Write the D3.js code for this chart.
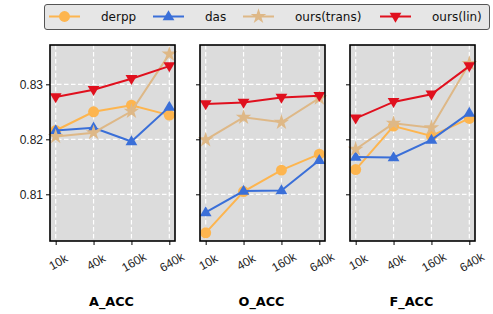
<!DOCTYPE html>
<html>
<head>
<meta charset="utf-8">
<script src="https://cdn.jsdelivr.net/npm/d3@7"></script>
<style>
  body { margin: 0; background: #fff; }
  svg { font-family: "DejaVu Sans", sans-serif; }
</style>
</head>
<body>
<svg id="chart" width="493" height="314"></svg>
<script>
const steps = ['10k', '40k', '160k', '640k'];
const panels = ['A_ACC', 'O_ACC', 'F_ACC'];
const seriesNames = ['derpp', 'das', 'ours(trans)', 'ours(lin)'];
const yTicks = [0.81, 0.82, 0.83];

// values per panel: [A_ACC, O_ACC, F_ACC]
const derpp = [
  [0.8216, 0.8250, 0.8262, 0.8244],
  [0.8030, 0.8105, 0.8144, 0.8173],
  [0.8145, 0.8224, 0.8206, 0.8238]
];
const das = [
  [0.8216, 0.8221, 0.8196, 0.8259],
  [0.8067, 0.8106, 0.8107, 0.8162],
  [0.8168, 0.8167, 0.8199, 0.8248]
];
const oursTrans = [
  [0.8205, 0.8212, 0.8251, 0.8355],
  [0.8199, 0.8240, 0.8231, 0.8275],
  [0.8182, 0.8229, 0.8221, 0.8338]
];
const oursLin = [
  [0.8277, 0.8290, 0.8310, 0.8333],
  [0.8264, 0.8267, 0.8276, 0.8279],
  [0.8238, 0.8268, 0.8282, 0.8333]
];

const seriesData = [derpp, das, oursTrans, oursLin];
const colors = ['#fdb54f', '#3a6fd8', '#deb887', '#e0101e'];
const shapes = [d3.symbolCircle, 'triUp', d3.symbolStar, 'triDown'];

const svg = d3.select('#chart');
const panelLeft = [50, 200, 350];
const panelW = 125;
const plotTop = 45, plotBottom = 241;

const y = d3.scaleLinear().domain([0.80151, 0.83715]).range([plotBottom, plotTop]);

function markerPath (shape) {
  const r = 6.2;
  if (shape === 'triUp') {
    return `M0,${-r}L${r * 0.95},${r * 0.62}L${-r * 0.95},${r * 0.62}Z`;
  }
  if (shape === 'triDown') {
    return `M0,${r}L${r * 0.95},${-r * 0.62}L${-r * 0.95},${-r * 0.62}Z`;
  }
  if (shape === d3.symbolCircle) return d3.symbol(shape, Math.PI * 30)();
  return d3.symbol(shape, 75)();
}

panels.forEach(function (name, p) {
  const x = d3.scaleLinear().domain([-0.15, 3.15]).range([panelLeft[p], panelLeft[p] + panelW]);
  const g = svg.append('g');

  g.append('rect')
    .attr('x', panelLeft[p]).attr('y', plotTop)
    .attr('width', panelW).attr('height', plotBottom - plotTop)
    .attr('fill', '#dcdcdc');

  // grid
  g.selectAll('.vgrid').data(steps).enter().append('line')
    .attr('x1', (d, i) => x(i)).attr('x2', (d, i) => x(i))
    .attr('y1', plotTop).attr('y2', plotBottom)
    .attr('stroke', '#fff').attr('stroke-width', 1.2).attr('stroke-dasharray', '4.5,2.5');
  g.selectAll('.hgrid').data(yTicks).enter().append('line')
    .attr('x1', panelLeft[p]).attr('x2', panelLeft[p] + panelW)
    .attr('y1', d => y(d)).attr('y2', d => y(d))
    .attr('stroke', '#fff').attr('stroke-width', 1.2).attr('stroke-dasharray', '4.5,2.5');

  const line = d3.line().x((d, i) => x(i)).y(d => y(d));
  seriesData.forEach(function (s, k) {
    const vals = s[p];
    g.append('path').datum(vals)
      .attr('d', line)
      .attr('fill', 'none')
      .attr('stroke', colors[k])
      .attr('stroke-width', 2);
    g.selectAll('.m' + k).data(vals).enter().append('path')
      .attr('transform', (d, i) => `translate(${x(i)},${y(d)})`)
      .attr('d', markerPath(shapes[k]))
      .attr('fill', colors[k]);
  });

  g.append('rect')
    .attr('x', panelLeft[p]).attr('y', plotTop)
    .attr('width', panelW).attr('height', plotBottom - plotTop)
    .attr('fill', 'none').attr('stroke', '#000').attr('stroke-width', 1.6);

  // x axis, labels rotated 30deg around their centre
  const xAxis = g.append('g')
    .attr('transform', `translate(0,${plotBottom})`)
    .call(d3.axisBottom(x).tickValues([0, 1, 2, 3]).tickFormat(i => steps[i]).tickSize(4));
  xAxis.select('.domain').remove();
  xAxis.selectAll('line').attr('stroke', '#000').attr('stroke-width', 1);
  xAxis.selectAll('text')
    .style('font-size', '12px')
    .attr('fill', '#222')
    .style('text-anchor', 'middle')
    .attr('y', 0)
    .attr('dy', '0.35em')
    .attr('transform', 'translate(2,21) rotate(-30)');

  // y axis
  const yAxis = g.append('g')
    .attr('transform', `translate(${panelLeft[p]},0)`)
    .call(d3.axisLeft(y).tickValues(yTicks).tickFormat(d3.format('.2f')).tickSize(4).tickPadding(3));
  yAxis.select('.domain').remove();
  yAxis.selectAll('line').attr('stroke', '#000').attr('stroke-width', 1);
  yAxis.selectAll('text').style('font-size', '12px').attr('fill', '#222');
  if (p > 0) yAxis.selectAll('text').remove();

  g.append('text')
    .attr('x', panelLeft[p] + panelW / 2 - 1)
    .attr('y', 306)
    .attr('text-anchor', 'middle')
    .style('font-size', '12.8px')
    .attr('font-weight', 'bold')
    .text(name);
});

// legend
const legend = svg.append('g');
legend.append('rect')
  .attr('x', 44.5).attr('y', 4.5).attr('width', 445).attr('height', 25)
  .attr('rx', 2.5)
  .attr('fill', '#e6e6e6').attr('stroke', '#555').attr('stroke-width', 1);
const legX = [49, 153, 243, 380];
const textX = [101, 205, 295, 432];
seriesNames.forEach(function (n, k) {
  legend.append('line')
    .attr('x1', legX[k]).attr('x2', legX[k] + 31)
    .attr('y1', 16.5).attr('y2', 16.5)
    .attr('stroke', colors[k]).attr('stroke-width', 2);
  legend.append('path')
    .attr('transform', `translate(${legX[k] + 15.5},16.5)`)
    .attr('d', markerPath(shapes[k]))
    .attr('fill', colors[k]);
  legend.append('text')
    .attr('x', textX[k]).attr('y', 20.5)
    .style('font-size', '12px')
    .attr('fill', '#111')
    .text(n);
});
</script>
</body>
</html>
